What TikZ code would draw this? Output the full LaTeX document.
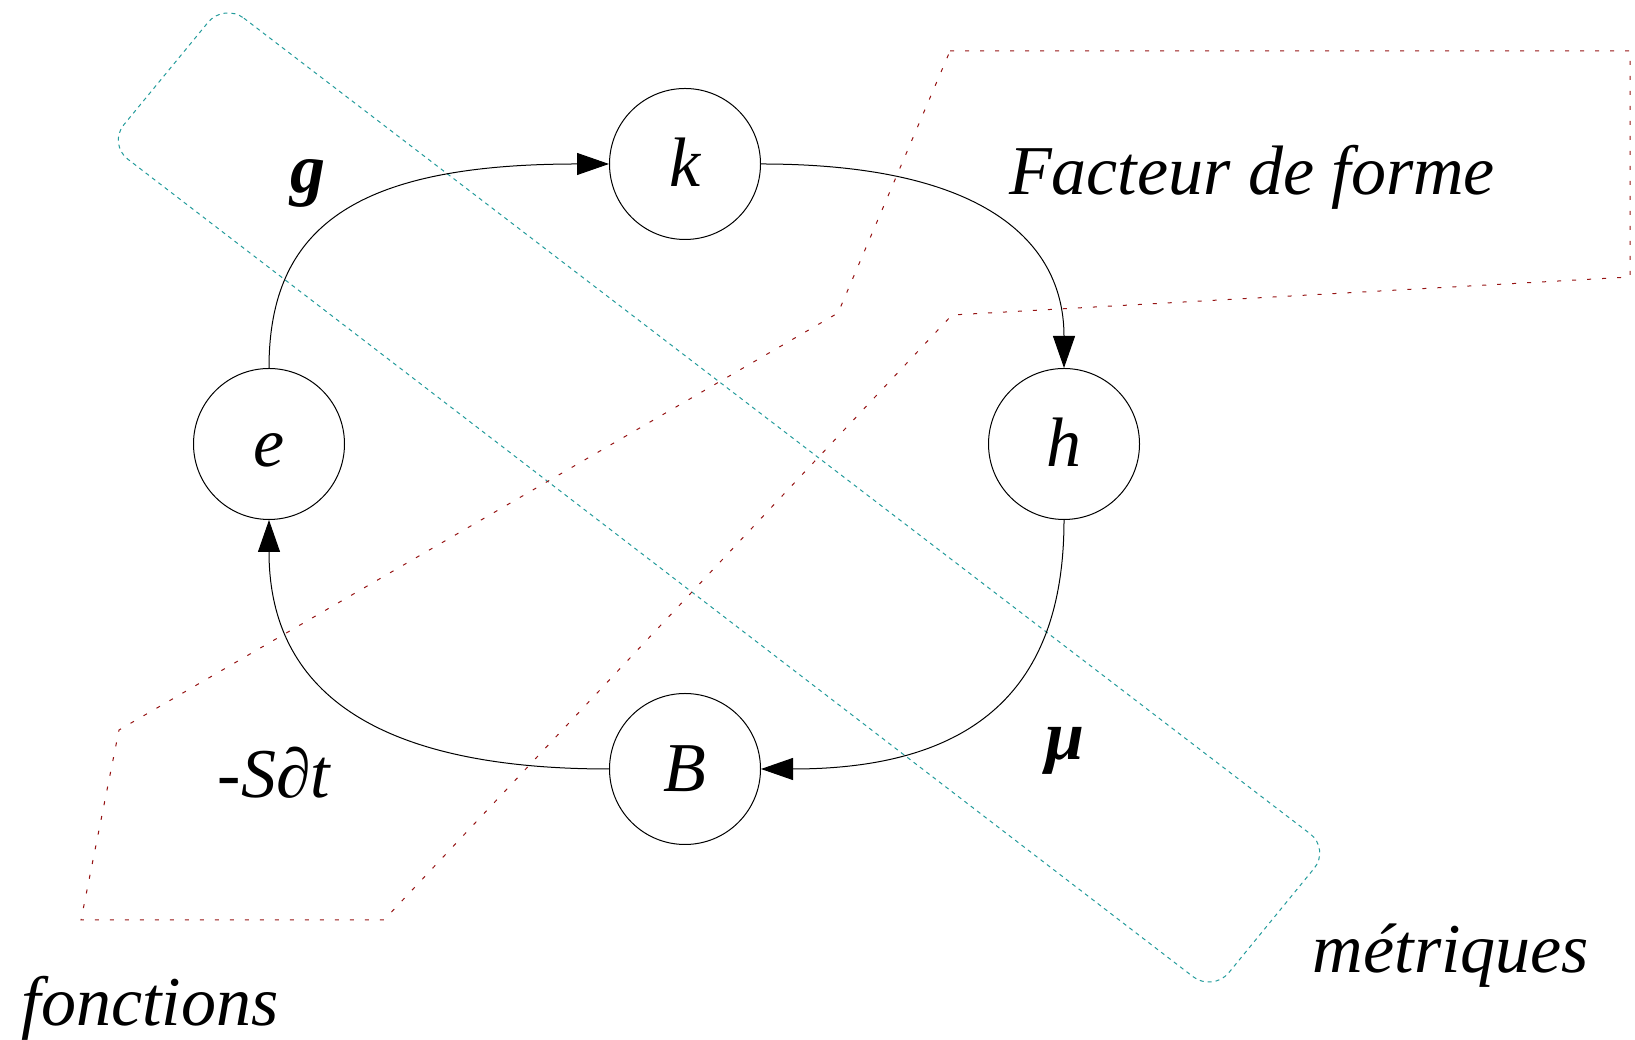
\documentclass[tikz,border=0pt]{standalone}
\usepackage{fontspec}
\setmainfont{Liberation Serif}
\usetikzlibrary{arrows.meta}
\definecolor{bleuvert}{RGB}{35,155,155}
\definecolor{rougefonce}{RGB}{150,20,20}

\begin{document}
\begin{tikzpicture}[x=1pt, y=1pt, >={Triangle[length=32pt, width=22pt]}, line width=1pt,
  etat/.style={circle, draw, minimum size=151pt, inner sep=0pt, text height=46pt, text depth=0pt,
    font=\fontsize{70}{80}\selectfont\itshape},
  etiq/.style={anchor=base, inner sep=0pt, font=\fontsize{70}{80}\selectfont\itshape},
  etiqgras/.style={etiq, font=\fontsize{70}{80}\selectfont\bfseries\itshape}]
  \useasboundingbox (0,0) rectangle (1635,1040);
  % zones
  \draw[bleuvert, dash pattern=on 4pt off 4pt, rounded corners=25pt]
    (224,1037) -- (1330,191) -- (1213,48) -- (108,896) -- cycle;
  \draw[rougefonce, dash pattern=on 4pt off 11pt]
    (950,989) -- (1630,989) -- (1630,763) -- (952,725) -- (384,120) -- (81,120)
    -- (119,310) -- (838,727) -- cycle;
  % etats
  \node[etat] (k) at (685,876) {k};
  \node[etat] (e) at (269,596) {e};
  \node[etat] (h) at (1064,596) {h};
  \node[etat] (B) at (685,271) {B};
  % transitions
  \draw[->] (e.north) .. controls +(0,140) and +(-255,0) .. (k.west);
  \draw[->] (k.east) .. controls +(233,0) and +(0,120) .. (h.north);
  \draw[->] (h.south) .. controls +(0,-158) and +(225,0) .. (B.east);
  \draw[->] (B.west) .. controls +(-250,0) and +(0,-160) .. (e.south);
  % etiquettes
  \node[etiqgras] (lg) at (308,847) {g};
  \node[etiqgras] (lmu) at (1065,280) {μ};
  \node[etiq] (lsdt) at (274,242) {-S∂t};
  \node[etiq] (lff) at (1252,845) {Facteur de forme};
  \node[etiq] (lfonc) at (150,14) {fonctions};
  \node[etiq] (lmet) at (1451,67) {métriques};
\end{tikzpicture}
\end{document}
